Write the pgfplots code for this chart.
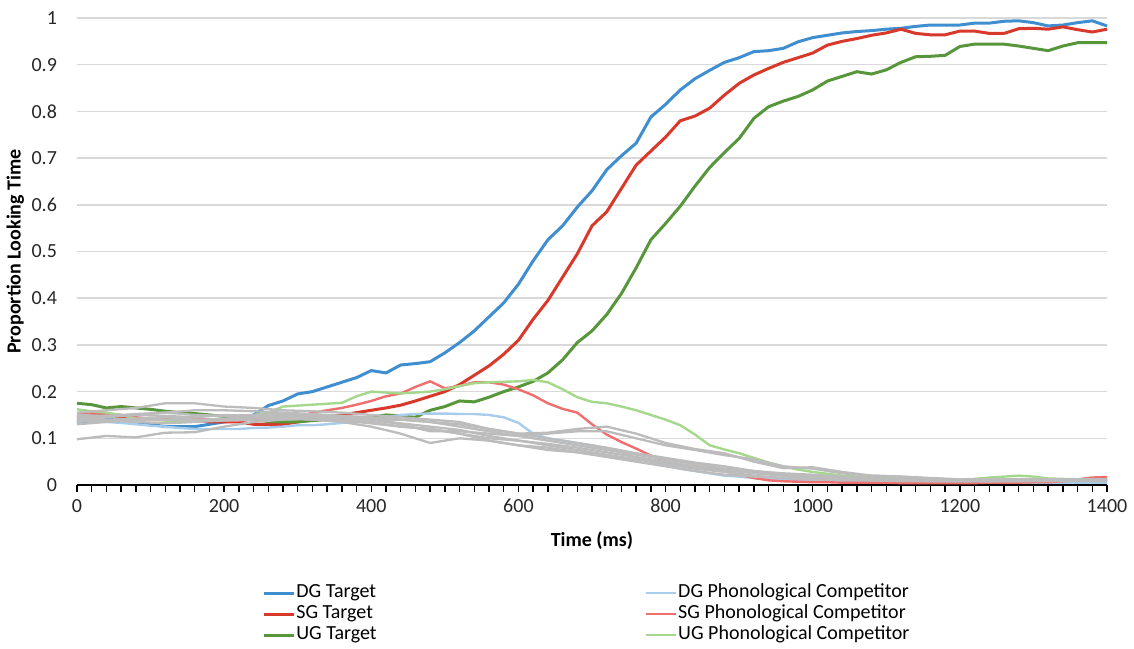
\documentclass[border=0pt]{standalone}
\usepackage{pgfplots}
\pgfplotsset{compat=1.18}
\usepackage{pgfplotstable}
\usepackage{fontspec}
\setmainfont{Carlito}

\definecolor{dgT}{RGB}{62,142,208}
\definecolor{sgT}{RGB}{217,57,43}
\definecolor{ugT}{RGB}{88,150,60}
\definecolor{dgC}{RGB}{168,204,236}
\definecolor{sgC}{RGB}{240,110,110}
\definecolor{ugC}{RGB}{165,215,140}
\definecolor{grayL}{RGB}{188,188,188}
\definecolor{gridc}{RGB}{217,217,217}

\pgfplotstableread{
t    dgT    sgT    ugT    dgC    sgC    ugC
0    0.135  0.145  0.175  0.138  0.150  0.162
20   0.135  0.150  0.172  0.137  0.155  0.158
40   0.140  0.150  0.165  0.135  0.152  0.155
60   0.140  0.145  0.168  0.133  0.150  0.150
80   0.135  0.140  0.165  0.130  0.145  0.142
100  0.130  0.140  0.162  0.127  0.142  0.140
120  0.125  0.140  0.158  0.125  0.140  0.138
140  0.125  0.140  0.155  0.122  0.140  0.138
160  0.125  0.140  0.153  0.120  0.142  0.138
180  0.130  0.135  0.150  0.120  0.140  0.138
200  0.135  0.135  0.147  0.120  0.138  0.140
220  0.140  0.135  0.142  0.120  0.138  0.145
240  0.150  0.130  0.140  0.122  0.140  0.150
260  0.170  0.130  0.136  0.123  0.140  0.155
280  0.180  0.130  0.135  0.125  0.142  0.168
300  0.195  0.135  0.135  0.128  0.145  0.170
320  0.200  0.140  0.138  0.128  0.155  0.172
340  0.210  0.145  0.140  0.130  0.160  0.174
360  0.220  0.150  0.140  0.133  0.165  0.176
380  0.230  0.155  0.140  0.135  0.172  0.190
400  0.245  0.160  0.145  0.140  0.180  0.200
420  0.240  0.165  0.150  0.145  0.190  0.198
440  0.257  0.171  0.148  0.150  0.196  0.196
460  0.260  0.180  0.145  0.152  0.210  0.198
480  0.264  0.190  0.160  0.153  0.222  0.200
500  0.283  0.200  0.168  0.153  0.207  0.205
520  0.305  0.215  0.180  0.152  0.212  0.212
540  0.330  0.235  0.178  0.152  0.220  0.218
560  0.360  0.255  0.188  0.150  0.220  0.220
580  0.390  0.280  0.200  0.145  0.215  0.221
600  0.430  0.310  0.210  0.133  0.205  0.222
620  0.480  0.355  0.222  0.110  0.192  0.225
640  0.525  0.395  0.240  0.100  0.175  0.220
660  0.555  0.445  0.268  0.095  0.163  0.205
680  0.595  0.495  0.305  0.090  0.155  0.188
700  0.630  0.555  0.330  0.085  0.130  0.178
720  0.675  0.585  0.365  0.078  0.108  0.175
740  0.705  0.635  0.410  0.070  0.092  0.168
760  0.732  0.685  0.465  0.058  0.078  0.160
780  0.788  0.715  0.525  0.050  0.063  0.150
800  0.815  0.745  0.560  0.042  0.050  0.140
820  0.846  0.780  0.597  0.035  0.044  0.128
840  0.870  0.790  0.640  0.030  0.040  0.108
860  0.888  0.807  0.680  0.025  0.036  0.085
880  0.905  0.835  0.712  0.020  0.030  0.076
900  0.915  0.860  0.742  0.018  0.022  0.068
920  0.928  0.878  0.785  0.015  0.015  0.058
940  0.930  0.892  0.810  0.012  0.010  0.048
960  0.935  0.905  0.822  0.010  0.008  0.040
980  0.949  0.915  0.832  0.010  0.007  0.033
1000 0.958  0.925  0.846  0.010  0.006  0.028
1020 0.963  0.942  0.865  0.008  0.006  0.024
1040 0.968  0.950  0.875  0.008  0.005  0.020
1060 0.971  0.956  0.885  0.007  0.005  0.018
1080 0.973  0.963  0.880  0.007  0.005  0.016
1100 0.976  0.968  0.889  0.006  0.005  0.015
1120 0.978  0.976  0.905  0.006  0.004  0.014
1140 0.982  0.967  0.917  0.006  0.004  0.013
1160 0.985  0.964  0.918  0.005  0.004  0.013
1180 0.985  0.964  0.920  0.005  0.004  0.012
1200 0.985  0.972  0.939  0.005  0.004  0.012
1220 0.989  0.972  0.944  0.005  0.004  0.013
1240 0.989  0.967  0.944  0.005  0.005  0.016
1260 0.993  0.967  0.944  0.005  0.005  0.018
1280 0.994  0.977  0.940  0.005  0.005  0.020
1300 0.990  0.978  0.935  0.005  0.006  0.018
1320 0.983  0.976  0.930  0.005  0.006  0.014
1340 0.985  0.981  0.940  0.005  0.008  0.013
1360 0.990  0.975  0.947  0.005  0.012  0.012
1380 0.994  0.970  0.947  0.005  0.016  0.012
1400 0.983  0.976  0.947  0.005  0.017  0.012
}\mainT

\pgfplotstableread{
t    g1     g2     g3     g4     g5     g6     g7     g8
0    0.098  0.155  0.145  0.140  0.135  0.150  0.130  0.142
40   0.105  0.160  0.148  0.145  0.140  0.148  0.135  0.138
80   0.102  0.165  0.150  0.150  0.142  0.152  0.140  0.135
120  0.112  0.175  0.155  0.148  0.145  0.155  0.140  0.132
160  0.113  0.175  0.160  0.145  0.140  0.150  0.138  0.135
200  0.125  0.168  0.160  0.150  0.140  0.148  0.142  0.138
240  0.135  0.165  0.158  0.148  0.145  0.150  0.145  0.140
280  0.140  0.160  0.155  0.145  0.148  0.152  0.148  0.142
320  0.145  0.158  0.152  0.140  0.145  0.150  0.148  0.140
360  0.140  0.155  0.148  0.135  0.140  0.148  0.145  0.138
400  0.135  0.150  0.140  0.125  0.140  0.145  0.140  0.132
440  0.125  0.145  0.130  0.110  0.140  0.140  0.132  0.125
480  0.120  0.140  0.115  0.090  0.135  0.135  0.125  0.120
520  0.110  0.135  0.115  0.100  0.125  0.130  0.118  0.110
560  0.100  0.120  0.110  0.095  0.115  0.120  0.105  0.095
600  0.095  0.110  0.105  0.085  0.105  0.110  0.095  0.085
640  0.085  0.112  0.110  0.080  0.095  0.100  0.088  0.075
680  0.075  0.120  0.115  0.070  0.085  0.090  0.080  0.070
720  0.065  0.125  0.115  0.060  0.075  0.080  0.070  0.062
760  0.055  0.110  0.100  0.050  0.065  0.068  0.060  0.055
800  0.045  0.090  0.085  0.040  0.055  0.058  0.050  0.048
840  0.035  0.077  0.075  0.030  0.045  0.048  0.040  0.040
880  0.028  0.068  0.064  0.022  0.035  0.040  0.032  0.035
920  0.020  0.050  0.055  0.018  0.030  0.030  0.025  0.028
960  0.015  0.036  0.040  0.015  0.025  0.022  0.020  0.020
1000 0.012  0.038  0.035  0.013  0.022  0.018  0.015  0.015
1040 0.010  0.028  0.025  0.012  0.018  0.015  0.012  0.012
1080 0.010  0.020  0.020  0.012  0.015  0.012  0.010  0.010
1120 0.008  0.018  0.018  0.010  0.012  0.012  0.010  0.010
1160 0.008  0.015  0.014  0.010  0.010  0.012  0.008  0.010
1200 0.008  0.012  0.012  0.010  0.008  0.010  0.008  0.010
1240 0.008  0.012  0.012  0.010  0.008  0.010  0.008  0.010
1280 0.010  0.012  0.012  0.010  0.008  0.010  0.008  0.010
1320 0.010  0.012  0.012  0.010  0.010  0.012  0.008  0.010
1360 0.010  0.012  0.012  0.010  0.010  0.012  0.008  0.010
1400 0.010  0.012  0.012  0.010  0.010  0.012  0.008  0.010
}\grayT

\begin{document}
\begin{tikzpicture}[x=1pt,y=1pt]
\begin{axis}[
  at={(0,0)}, anchor=south west,
  width=515pt, height=233.5pt, scale only axis,
  xmin=0, xmax=1400, ymin=0, ymax=1,
  clip=false,
  axis x line*=bottom, axis y line*=left,
  y axis line style={draw=none},
  x axis line style={black, line width=0.8pt},
  xtick={0,200,...,1400},
  minor xtick={0,20,...,1400},
  tick align=outside,
  major tick length=3.5pt, minor tick length=3.5pt,
  xtick style={black, line width=0.7pt},
  minor tick style={black, line width=0.7pt},
  ytick={0,0.1,0.2,0.3,0.4,0.5,0.6,0.7,0.8,0.9,1},
  ytick style={draw=none},
  ymajorgrids, grid style={gridc, line width=0.8pt},
  tick label style={font=\fontsize{10}{12}\selectfont, text=black!85},
  yticklabel style={xshift=-3pt},
  /pgf/number format/assume math mode=true,
  /pgf/number format/1000 sep={},
  xlabel={Time (ms)}, ylabel={Proportion Looking Time},
  label style={font=\bfseries\fontsize{10}{12}\selectfont},
  xlabel style={at={(axis description cs:0.5,-0.118)}, anchor=center},
  ylabel style={at={(axis description cs:-0.06,0.5)}, anchor=center},
  legend columns=2,
  legend cell align=left,
  legend image code/.code={\draw[#1] (0pt,0pt) -- (15pt,0pt);},
  legend style={draw=none, fill=none, at={(axis description cs:0.18,-0.208)}, anchor=north west,
    font=\fontsize{10}{11}\selectfont, inner sep=0pt, row sep=0pt,
    nodes={inner xsep=0.3pt, inner ysep=0.5pt, text height=7.2pt, text depth=2.3pt},
    /tikz/column 2/.style={column sep=134pt}},
]
% legend entries
\addlegendimage{dgT, line width=1.5pt}\addlegendentry{DG Target}
\addlegendimage{dgC, line width=1.2pt}\addlegendentry{DG Phonological Competitor}
\addlegendimage{sgT, line width=1.5pt}\addlegendentry{SG Target}
\addlegendimage{sgC, line width=1.2pt}\addlegendentry{SG Phonological Competitor}
\addlegendimage{ugT, line width=1.5pt}\addlegendentry{UG Target}
\addlegendimage{ugC, line width=1.2pt}\addlegendentry{UG Phonological Competitor}
% targets
\addplot[forget plot, dgT, line width=1.5pt] table[x=t, y=dgT] {\mainT};
\addplot[forget plot, sgT, line width=1.5pt] table[x=t, y=sgT] {\mainT};
\addplot[forget plot, ugT, line width=1.5pt] table[x=t, y=ugT] {\mainT};
% competitors
\addplot[forget plot, dgC, line width=1.2pt] table[x=t, y=dgC] {\mainT};
\addplot[forget plot, sgC, line width=1.2pt] table[x=t, y=sgC] {\mainT};
\addplot[forget plot, ugC, line width=1.2pt] table[x=t, y=ugC] {\mainT};
% other distractors (grey)
\addplot[forget plot, grayL, line width=1.15pt] table[x=t, y=g1] {\grayT};
\addplot[forget plot, grayL, line width=1.15pt] table[x=t, y=g2] {\grayT};
\addplot[forget plot, grayL, line width=1.15pt] table[x=t, y=g3] {\grayT};
\addplot[forget plot, grayL, line width=1.15pt] table[x=t, y=g4] {\grayT};
\addplot[forget plot, grayL, line width=1.15pt] table[x=t, y=g5] {\grayT};
\addplot[forget plot, grayL, line width=1.15pt] table[x=t, y=g6] {\grayT};
\addplot[forget plot, grayL, line width=1.15pt] table[x=t, y=g7] {\grayT};
\addplot[forget plot, grayL, line width=1.15pt] table[x=t, y=g8] {\grayT};
\end{axis}
\pgfresetboundingbox
\useasboundingbox (-38.5,-81.5) rectangle (528.5,242.5);
\end{tikzpicture}
\end{document}
